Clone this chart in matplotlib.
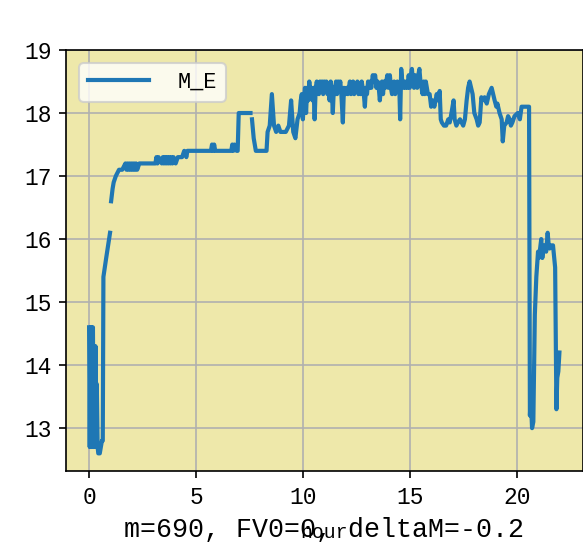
"""M_E over the day, single line on a khaki background."""

import numpy as np
import matplotlib

matplotlib.use("Agg")
import matplotlib.pyplot as plt

nan = np.nan

# hour of the day
hour = [
    0.00, 0.03, 0.06, 0.09, 0.12, 0.15, 0.18, 0.21, 0.24, 0.27, 0.30, 0.33,
    0.36, 0.40, 0.43, 0.50, 0.55, 0.60, 0.64, 0.67, 0.80, 0.98, 1.00,
    1.03, 1.10, 1.15, 1.25, 1.40, 1.55, 1.70, 1.75, 1.80, 1.85, 1.90, 1.95,
    2.00, 2.05, 2.10, 2.15, 2.20, 2.25, 2.35, 2.45, 3.10, 3.15, 3.20, 3.25,
    3.40, 3.45, 3.50, 3.55, 3.60, 3.65, 3.70, 3.75, 3.80, 3.85, 3.90, 3.95,
    4.05, 4.15, 4.35, 4.45, 4.55, 4.60, 5.70, 5.75, 5.80, 5.85, 5.90, 6.65,
    6.70, 6.75, 6.80, 6.90, 6.95, 7.00, 7.55, 7.58,
    7.62, 7.70, 7.80, 8.30, 8.35, 8.45, 8.55, 8.65, 8.75, 8.85, 8.95, 9.20,
    9.35, 9.45, 9.55, 9.65, 9.75, 9.85, 9.90, 9.95, 10.00, 10.05, 10.10,
    10.15, 10.20, 10.25, 10.30, 10.35, 10.40, 10.45, 10.50, 10.55, 10.60,
    10.65, 10.70, 10.75, 10.80, 10.85, 10.90, 10.95, 11.00, 11.05, 11.10,
    11.15, 11.20, 11.25, 11.30, 11.35, 11.40, 11.45, 11.50, 11.55, 11.60,
    11.65, 11.70, 11.75, 11.80, 11.87, 11.92, 11.97, 12.05, 12.10, 12.15,
    12.20, 12.25, 12.30, 12.35, 12.40, 12.45, 12.50, 12.55, 12.60, 12.65,
    12.70, 12.75, 12.80, 12.85, 12.90, 12.95, 13.00, 13.05, 13.10, 13.15,
    13.20, 13.27, 13.32, 13.38, 13.44, 13.50, 13.55, 13.60, 13.65, 13.70,
    13.75, 13.80, 13.85, 13.90, 13.95, 14.00, 14.07, 14.12, 14.17, 14.22,
    14.27, 14.32, 14.37, 14.42, 14.47, 14.52, 14.55, 14.60, 14.65, 14.70,
    14.75, 14.80, 14.85, 14.90, 14.95, 15.00, 15.05, 15.10, 15.15, 15.20,
    15.25, 15.30, 15.35, 15.40, 15.45, 15.50, 15.55, 15.60, 15.65, 15.70,
    15.75, 15.80, 15.85, 15.93, 16.00, 16.07, 16.15, 16.26, 16.33, 16.40,
    16.45, 16.50, 16.60, 16.70, 16.80, 16.87, 16.95, 17.05, 17.10, 17.18,
    17.25, 17.35, 17.50, 17.58, 17.66, 17.73, 17.80, 17.87, 17.94, 18.02,
    18.13, 18.20, 18.27, 18.35, 18.40, 18.50, 18.60, 18.70, 18.83, 18.90,
    18.97, 19.05, 19.10, 19.20, 19.30, 19.35, 19.42, 19.53, 19.60, 19.67,
    19.73, 19.80, 19.90, 20.05, 20.15, 20.23, 20.35, 20.51,
    20.58, 20.62, 20.66, 20.72, 20.78, 20.85, 20.92, 21.00, 21.03, 21.08,
    21.15, 21.20, 21.25, 21.30, 21.38, 21.45, 21.50, 21.54, 21.62, 21.70,
    21.80, 21.86, 21.90, 21.95, 22.00,
]
m_e = [
    14.6, 12.7, 14.6, 12.7, 14.6, 12.8, 14.6, 12.7, 14.3, 12.8, 14.3, 12.7,
    13.7, 12.7, 12.6, 12.6, 12.7, 12.8, 12.8, 15.4, 15.7, 16.1, nan,
    16.6, 16.8, 16.9, 17.0, 17.1, 17.1, 17.2, 17.1, 17.2, 17.1, 17.2, 17.1,
    17.2, 17.1, 17.2, 17.1, 17.2, 17.1, 17.2, 17.2, 17.2, 17.3, 17.2, 17.3,
    17.2, 17.3, 17.2, 17.3, 17.2, 17.3, 17.2, 17.3, 17.2, 17.3, 17.2, 17.3,
    17.2, 17.3, 17.3, 17.4, 17.3, 17.4, 17.4, 17.5, 17.4, 17.5, 17.4, 17.4,
    17.5, 17.4, 17.5, 17.4, 17.4, 18.0, 18.0, nan,
    17.9, 17.6, 17.4, 17.4, 17.7, 17.8, 18.3, 17.8, 17.7, 17.8, 17.7, 17.7,
    17.8, 18.2, 17.7, 17.6, 17.9, 18.0, 18.2, 18.3, 17.9, 18.2, 18.4,
    18.0, 18.4, 18.2, 18.5, 18.3, 18.4, 18.2, 18.4, 17.9, 18.4,
    18.5, 18.4, 18.3, 18.5, 18.4, 18.5, 18.3, 18.5, 18.4, 18.5,
    18.3, 18.4, 18.2, 18.5, 18.4, 18.0, 18.4, 18.3, 18.5, 18.3,
    18.5, 18.4, 18.5, 18.3, 17.85, 18.4, 18.3, 18.4, 18.3, 18.4,
    18.5, 18.3, 18.4, 18.5, 18.3, 18.4, 18.4, 18.5, 18.3, 18.4,
    18.3, 18.5, 18.4, 18.3, 18.1, 18.4, 18.3, 18.5, 18.4, 18.5,
    18.4, 18.6, 18.5, 18.6, 18.4, 18.5, 18.4, 18.2, 18.4, 18.5,
    18.3, 18.5, 18.4, 18.5, 18.6, 18.4, 18.6, 18.4, 18.3, 18.4,
    18.5, 18.3, 18.4, 18.5, 18.4, 18.3, 17.9, 18.7, 18.5, 18.4,
    18.5, 18.4, 18.5, 18.4, 18.6, 18.4, 18.6, 18.7, 18.5, 18.4,
    18.6, 18.5, 18.4, 18.6, 18.7, 18.5, 18.4, 18.3, 18.5, 18.3,
    18.5, 18.4, 18.3, 18.3, 18.1, 18.2, 18.1, 18.3, 18.2, 18.35,
    17.9, 17.85, 17.8, 17.8, 17.9, 17.85, 18.0, 18.2, 17.9, 17.8,
    17.85, 17.9, 17.8, 17.9, 18.2, 18.4, 18.5, 18.4, 18.3, 18.0,
    17.9, 17.8, 17.85, 18.25, 18.2, 18.25, 18.15, 18.3, 18.4, 18.3,
    18.2, 18.1, 18.15, 18.0, 17.9, 17.55, 17.8, 17.85, 17.95, 17.9,
    17.8, 17.85, 17.95, 18.0, 17.9, 18.1, 18.1, 18.1,
    18.1, 13.2, 13.5, 13.0, 13.1, 14.8, 15.4, 15.8, 15.7, 15.8,
    16.0, 15.7, 15.85, 15.9, 15.8, 16.1, 15.9, 15.85, 15.9, 15.9,
    15.55, 13.3, 13.8, 13.9, 14.2,
]

x_ticks = [0, 5, 10, 15, 20]
y_ticks = [13, 14, 15, 16, 17, 18, 19]
note = "m=690, FV0=0, deltaM=-0.2"

plt.rcParams["font.family"] = ["Liberation Mono", "DejaVu Sans"]
plt.rcParams["font.size"] = 10.5

fig = plt.figure(figsize=(583 / 150, 553 / 150), dpi=150)
ax = fig.add_axes([66 / 583, 82 / 553, 516.5 / 583, 421 / 553])
ax.set_facecolor("#eee8aa")

ax.plot(hour, m_e, color="#1f77b4", linewidth=2, label="M_E")

ax.set_xlim(-1.08, 23.08)
ax.set_ylim(12.32, 19.0)
ax.set_xticks(x_ticks)
ax.set_yticks(y_ticks)
ax.tick_params(labelsize=11)
ax.grid(True, color="#b0b0b0", linewidth=0.8)
ax.set_axisbelow(True)
ax.set_xlabel("hour", fontsize=9.5, labelpad=7)

ax.legend(loc="upper left", handlelength=2.8, handletextpad=1.3,
          borderaxespad=0.6)

fig.text(0.556, 0.042, note, ha="center", va="center", fontsize=12.8,
         family=["Liberation Mono", "DejaVu Sans"])

fig.savefig("out.png", dpi=150)
